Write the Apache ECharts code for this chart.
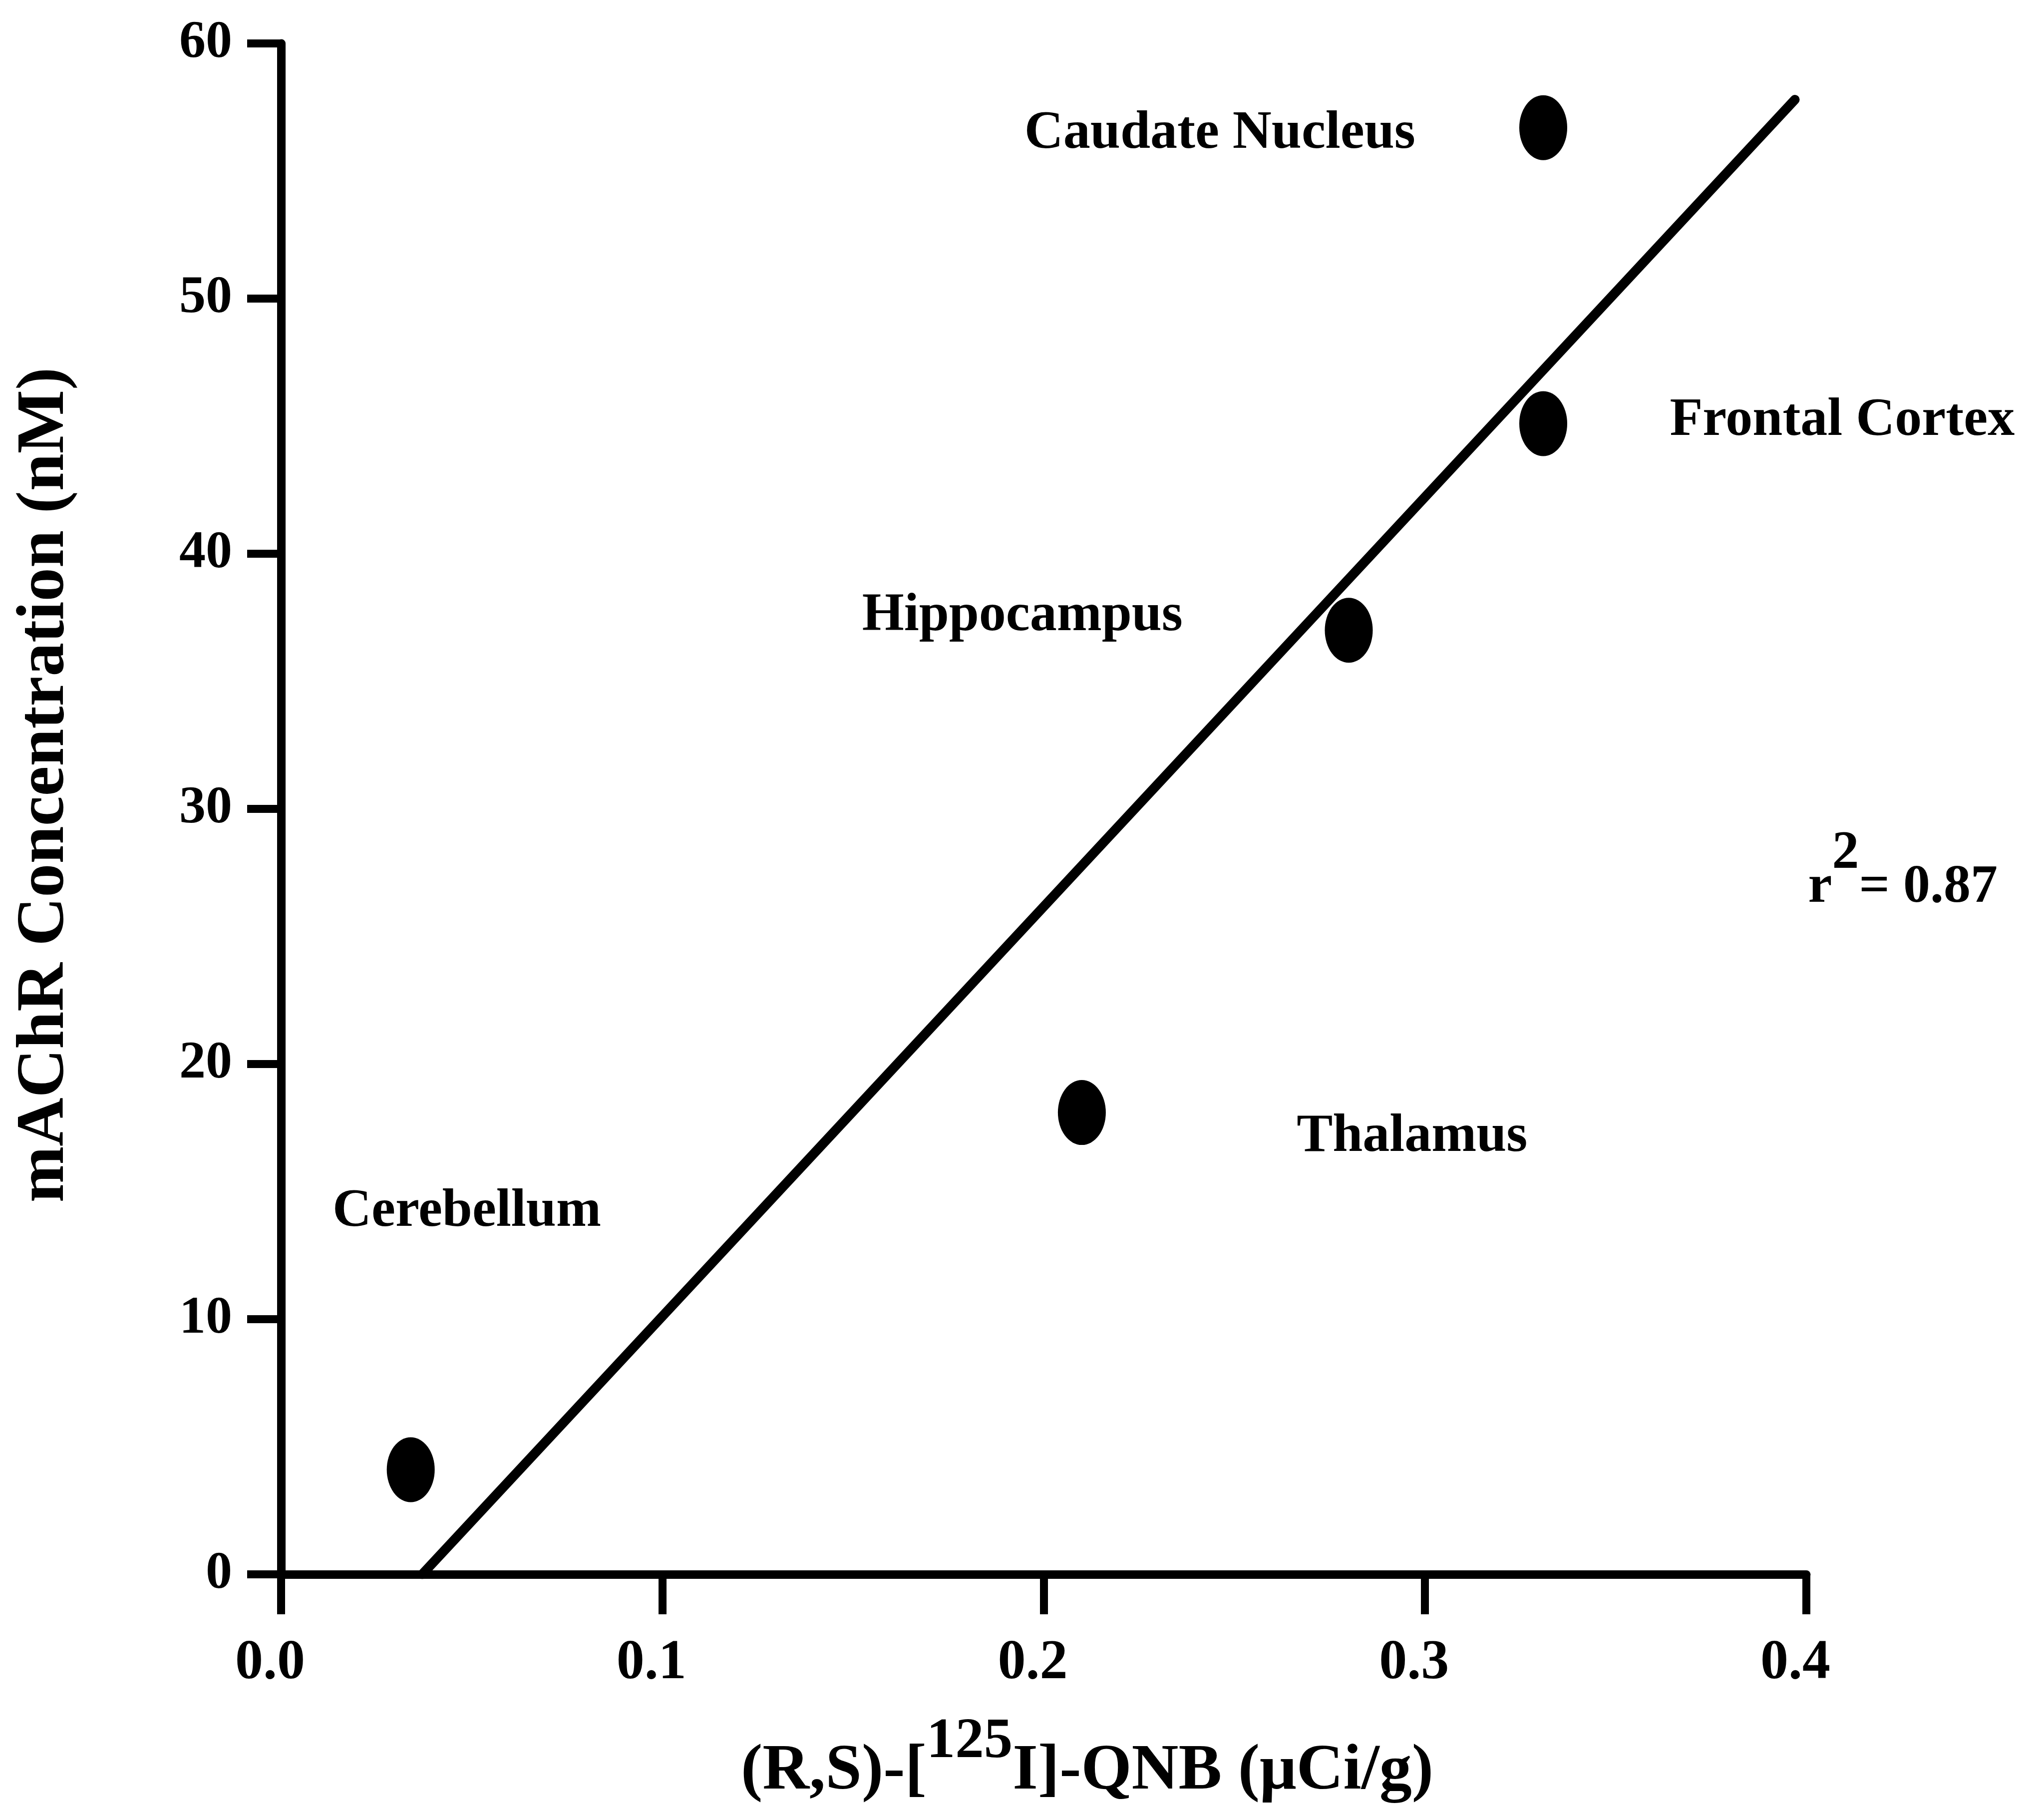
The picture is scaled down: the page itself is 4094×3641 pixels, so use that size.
<!DOCTYPE html>
<html>
<head>
<meta charset="utf-8">
<script src="https://cdn.jsdelivr.net/npm/echarts@6/dist/echarts.min.js"></script>
<style>
html,body{margin:0;padding:0;background:#fff;}
#chart{width:4094px;height:3641px;}
</style>
</head>
<body>
<div id="chart"></div>
<script>
// ---- data ----
const regionNames = ['Cerebellum', 'Thalamus', 'Hippocampus', 'Frontal Cortex', 'Caudate Nucleus'];
const qnbUptake   = [0.034, 0.210, 0.280, 0.331, 0.331];   // (R,S)-[125I]-QNB (µCi/g)
const machrConc   = [4.1, 18.1, 37.0, 45.1, 56.7];          // mAChR concentration (nM)
const fitX = [0.037, 0.397];
const fitY = [0, 57.8];
const labelX = [0.0487, 0.2966, 0.1944, 0.4094, 0.2462];
const labelY = [14.2, 17.15, 37.55, 45.2, 56.45];
const r2Text = 'r{sup|2}= 0.87';
const r2Pos = [0.4253, 26.9];
const xTickLabels = ['0.0', '0.1', '0.2', '0.3', '0.4'];
const yTickLabels = ['0', '10', '20', '30', '40', '50', '60'];

const FONT = '"Liberation Serif", "Times New Roman", serif';
const BLACK = '#000';

const chart = echarts.init(document.getElementById('chart'), null, {renderer: 'canvas'});

const ellipsePath = 'path://M50,0A50,50,0,1,1,50,100A50,50,0,1,1,50,0Z';

const option = {
  backgroundColor: '#fff',
  animation: false,
  grid: {left: 563, right: 476, top: 87, bottom: 488, containLabel: false, outerBoundsMode: 'none'},
  xAxis: {
    type: 'value', min: 0, max: 0.4, interval: 0.1,
    name: '(R,S)-[{sup|125}I]-QNB (μCi/g)',
    nameLocation: 'middle', nameGap: 330,
    nameTextStyle: {
      fontFamily: FONT, fontWeight: 'bold', fontSize: 130, lineHeight: 130, color: BLACK,
      padding: [0, 0, 0, 174],
      rich: {sup: {fontFamily: FONT, fontWeight: 'bold', fontSize: 115, lineHeight: 115, color: BLACK, padding: [0, 0, 118, 0]}}
    },
    axisLine: {show: true, onZero: false, lineStyle: {color: BLACK, width: 17}},
    axisTick: {show: true, inside: false, length: 80, lineStyle: {color: BLACK, width: 16}},
    axisLabel: {
      show: true, margin: 123, fontFamily: FONT, fontWeight: 'bold', fontSize: 112, lineHeight: 112,
      color: BLACK, padding: [0, 44, 0, 0],
      formatter: (v) => xTickLabels[Math.round(v * 10)]
    },
    splitLine: {show: false}
  },
  yAxis: {
    type: 'value', min: 0, max: 60, interval: 10,
    name: 'mAChR Concentration (nM)',
    nameLocation: 'middle', nameGap: 404, nameRotate: 90,
    nameTextStyle: {
      fontFamily: FONT, fontWeight: 'bold', fontSize: 135, lineHeight: 135, color: BLACK,
      padding: [0, 0, 0, 96]
    },
    axisLine: {show: true, onZero: false, lineStyle: {color: BLACK, width: 17}},
    axisTick: {show: true, inside: false, length: 68, lineStyle: {color: BLACK, width: 16}},
    axisLabel: {
      show: true, margin: 98, fontFamily: FONT, fontWeight: 'bold', fontSize: 106, color: BLACK,
      formatter: (v) => yTickLabels[Math.round(v / 10)]
    },
    splitLine: {show: false}
  },
  series: [
    {
      name: 'fit', type: 'line', silent: true,
      data: fitX.map((x, i) => [x, fitY[i]]),
      showSymbol: false, symbol: 'none',
      lineStyle: {color: BLACK, width: 19, cap: 'round'},
      z: 3
    },
    {
      name: 'regions', type: 'scatter',
      data: qnbUptake.map((x, i) => [x, machrConc[i]]),
      symbol: ellipsePath, symbolSize: [96, 130],
      itemStyle: {color: BLACK, opacity: 1},
      z: 4
    },
    {
      name: 'regionLabels', type: 'scatter', clip: false, silent: true,
      data: labelX.map((x, i) => ({value: [x, labelY[i]], name: regionNames[i]})),
      symbolSize: 1, itemStyle: {color: 'rgba(255,255,255,0)'},
      label: {
        show: true, position: 'inside', formatter: (p) => p.name,
        fontFamily: FONT, fontWeight: 'bold', fontSize: 108, color: BLACK, opacity: 1
      },
      z: 5
    },
    {
      name: 'r2', type: 'scatter', clip: false, silent: true,
      data: [{value: r2Pos, name: r2Text}],
      symbolSize: 1, itemStyle: {color: 'rgba(255,255,255,0)'},
      label: {
        show: true, position: 'inside', formatter: (p) => p.name,
        fontFamily: FONT, fontWeight: 'bold', fontSize: 108, lineHeight: 108, color: BLACK, opacity: 1,
        rich: {sup: {fontFamily: FONT, fontWeight: 'bold', fontSize: 108, lineHeight: 108, color: BLACK, padding: [0, 0, 136, 0]}}
      },
      z: 5
    }
  ]
};
chart.setOption(option);
</script>
</body>
</html>
